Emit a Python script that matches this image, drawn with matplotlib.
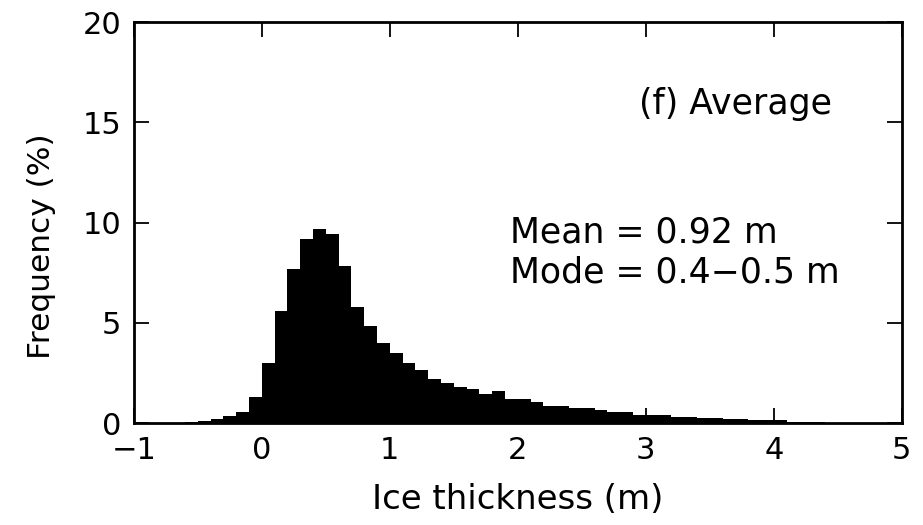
import numpy as np
import matplotlib
matplotlib.use("Agg")
import matplotlib.pyplot as plt

# Bin left edges (0.1 m bins from -1 to 5 m) and frequencies (%)
bin_width = 0.1
bin_left = np.round(np.arange(-1.0, 5.0, bin_width), 2)
freq = [
    0.00, 0.01, 0.01, 0.03, 0.05, 0.12, 0.23, 0.35, 0.56, 1.28,
    2.98, 5.60, 7.68, 9.18, 9.66, 9.43, 7.83, 5.80, 4.85, 4.02,
    3.51, 2.98, 2.64, 2.19, 2.01, 1.78, 1.68, 1.45, 1.61, 1.20,
    1.20, 1.06, 0.88, 0.88, 0.76, 0.76, 0.66, 0.55, 0.55, 0.42,
    0.42, 0.42, 0.30, 0.30, 0.28, 0.28, 0.20, 0.20, 0.18, 0.18,
    0.17, 0.06, 0.05, 0.04, 0.03, 0.03, 0.02, 0.02, 0.01, 0.01,
]
xticks = [-1, 0, 1, 2, 3, 4, 5]
yticks = [0, 5, 10, 15, 20]
panel_label = "(f) Average"
stats_text = "Mean = 0.92 m\nMode = 0.4\u22120.5 m"

plt.rcParams['font.family'] = ['DejaVu Sans']
fig = plt.figure(figsize=(9.23, 5.25), dpi=100)
ax = fig.add_axes([0.145, 0.194, 0.832, 0.764])

ax.bar(bin_left, freq, width=bin_width, align='edge', color='black', linewidth=0)

ax.set_xlim(-1, 5)
ax.set_ylim(0, 20)
ax.set_xticks(xticks)
ax.set_yticks(yticks)
ax.tick_params(direction='in', length=11, width=1.3, labelsize=22,
               top=True, right=True)
ax.tick_params(axis='x', pad=9)
ax.tick_params(axis='y', pad=9)
for s in ax.spines.values():
    s.set_linewidth(2)

ax.set_xlabel("Ice thickness (m)", fontsize=24.5)
ax.xaxis.set_label_coords(0.5, -0.15)
ax.set_ylabel("Frequency (%)", fontsize=22.5)
ax.yaxis.set_label_coords(-0.102, 0.44)

ax.text(2.95, 15.9, panel_label, fontsize=25, va='center', ha='left')
ax.text(1.94, 8.5, stats_text, fontsize=25, va='center', ha='left', linespacing=1.2)

fig.savefig("out.png", dpi=100)
